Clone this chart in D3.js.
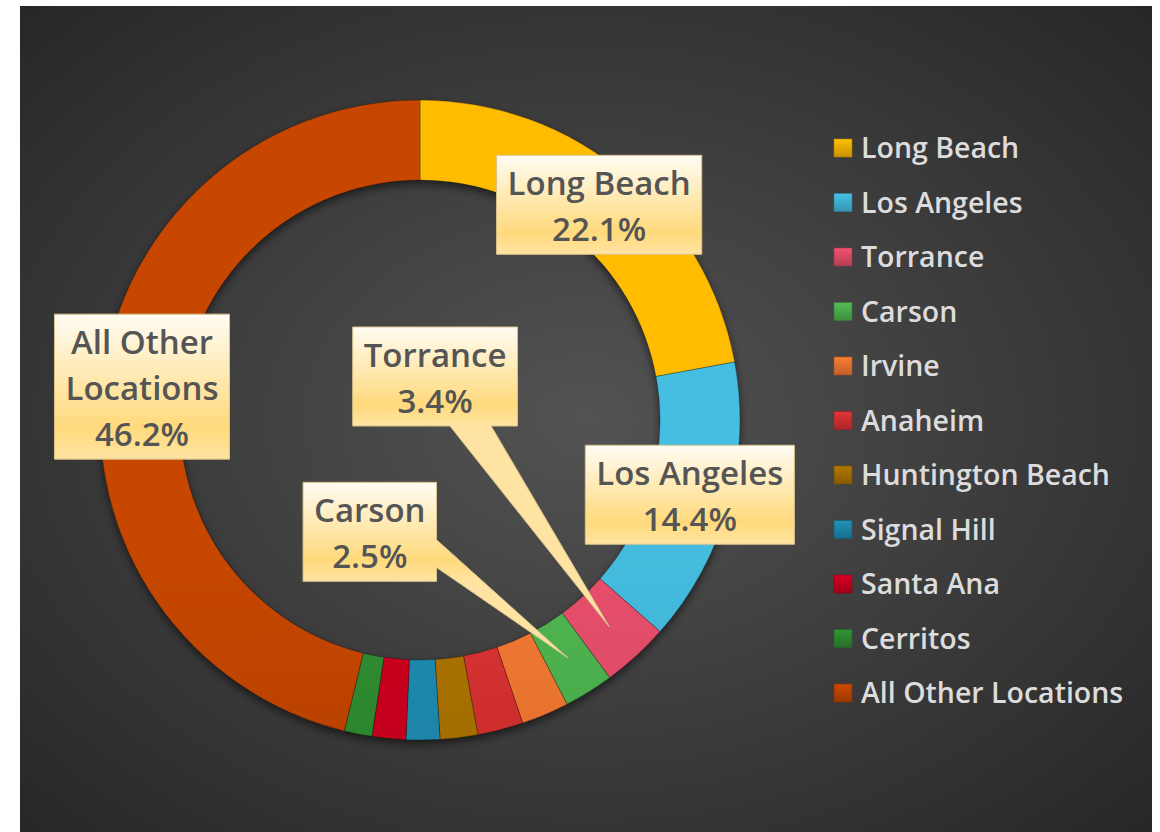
<!DOCTYPE html>
<html>
<head>
<meta charset="utf-8">
<script src="https://cdn.jsdelivr.net/npm/d3@7"></script>
<style>
  body { margin: 0; background: #fff; }
  svg { display: block; }
</style>
</head>
<body>
<div id="chart"></div>
<script>
// values (percent of total)
var cities = ['Long Beach', 'Los Angeles', 'Torrance', 'Carson', 'Irvine', 'Anaheim',
  'Huntington Beach', 'Signal Hill', 'Santa Ana', 'Cerritos', 'All Other Locations'];
var shares = [22.1, 14.4, 3.4, 2.5, 2.4, 2.3, 1.9, 1.7, 1.7, 1.4, 46.2];
var colors = ['#f7b400', '#42b6d8', '#e04d68', '#4db04e', '#ec7530', '#d33030',
  '#a87000', '#1e88ac', '#c8001e', '#2e8a30', '#c04400'];

// which slices get a data label, its lines, and where the box sits relative to the slice
var labelled = [
  { i: 0, lines: ['Long Beach'], dx: 0, dy: 0 },
  { i: 1, lines: ['Los Angeles'], dx: 0, dy: 0 },
  { i: 2, lines: ['Torrance'], dx: -174, dy: -250, side: 'bottom', p0: 0.59, p1: 0.84 },
  { i: 3, lines: ['Carson'], dx: -198, dy: -126, side: 'right', p0: 0.58, p1: 0.86 },
  { i: 10, lines: ['All Other', 'Locations'], dx: 0, dy: 0 }
];

var W = 1160, H = 832;
var cx = 420, cy = 420, rOuter = 320, rInner = 240;
var fmt = d3.format('.1f');

var svg = d3.select('#chart').append('svg')
  .attr('width', W)
  .attr('height', H);

var defs = svg.append('defs');

var bg = defs.append('radialGradient').attr('id', 'bg')
  .attr('cx', '0.5').attr('cy', '0.5').attr('r', '0.72');
bg.append('stop').attr('offset', '0').attr('stop-color', '#535353');
bg.append('stop').attr('offset', '1').attr('stop-color', '#262626');

var shadow = defs.append('filter').attr('id', 'shadow')
  .attr('x', '-20%').attr('y', '-20%').attr('width', '140%').attr('height', '140%');
shadow.append('feDropShadow').attr('dx', 0).attr('dy', 4)
  .attr('stdDeviation', 4).attr('flood-color', '#000').attr('flood-opacity', 0.55);

// top-lit shading for each slice colour
colors.forEach(function (c, k) {
  var g = defs.append('linearGradient').attr('id', 'slice' + k)
    .attr('gradientUnits', 'userSpaceOnUse')
    .attr('x1', 0).attr('x2', 0).attr('y1', cy - rOuter).attr('y2', cy + rOuter);
  g.append('stop').attr('offset', '0').attr('stop-color', d3.color(c).brighter(0.12));
  g.append('stop').attr('offset', '1').attr('stop-color', d3.color(c).darker(0.5));
  var s = defs.append('linearGradient').attr('id', 'key' + k)
    .attr('x1', 0).attr('x2', 0).attr('y1', 0).attr('y2', 1);
  s.append('stop').attr('offset', '0').attr('stop-color', d3.color(c).brighter(0.2));
  s.append('stop').attr('offset', '1').attr('stop-color', d3.color(c).darker(0.6));
});

svg.append('rect')
  .attr('x', 20).attr('y', 6)
  .attr('width', 1132).attr('height', H - 6)
  .attr('fill', 'url(#bg)');

var pie = d3.pie().sort(null).value(function (d) { return d; });
var arcs = pie(shares);
var arc = d3.arc().innerRadius(rInner).outerRadius(rOuter);

var ring = svg.append('g')
  .attr('transform', 'translate(' + cx + ',' + cy + ')');

ring.append('g')
  .attr('filter', 'url(#shadow)')
  .selectAll('path')
  .data(arcs)
  .enter()
  .append('path')
    .attr('d', arc)
    .attr('fill', function (d, k) { return 'url(#slice' + k + ')'; })
    .attr('stroke', 'rgba(0,0,0,0.35)')
    .attr('stroke-width', 0.8);

// data label callouts
var lineH = 46, padX = 11;
var labels = ring.append('g');

labelled.forEach(function (L, n) {
  var c = arc.centroid(arcs[L.i]);
  var lines = L.lines.concat([fmt(shares[L.i]) + '%']);
  var g = labels.append('g');

  var grad = defs.append('linearGradient').attr('id', 'box' + n)
    .attr('gradientUnits', 'userSpaceOnUse').attr('x1', 0).attr('x2', 0);
  grad.append('stop').attr('offset', '0').attr('stop-color', '#fffcf3');
  grad.append('stop').attr('offset', '0.78').attr('stop-color', '#ffda7c');
  grad.append('stop').attr('offset', '1').attr('stop-color', '#ffe3a2');

  var shape = g.append('path');
  var txt = g.append('text')
    .attr('text-anchor', 'middle')
    .attr('fill', '#555555')
    .style('font-family', '"Open Sans", sans-serif')
    .style('font-weight', 600)
    .style('font-size', '33px');
  lines.forEach(function (s) { txt.append('tspan').text(s); });

  var w = 0;
  txt.selectAll('tspan').each(function () { w = Math.max(w, this.getComputedTextLength()); });
  w += padX * 2;
  var h = lines.length * lineH + 7;
  var bx = c[0] + L.dx, by = c[1] + L.dy;
  var x0 = bx - w / 2, x1 = bx + w / 2, y0 = by - h / 2, y1 = by + h / 2;

  txt.selectAll('tspan')
    .attr('x', bx)
    .attr('y', function (s, k) { return y0 + 40 + k * lineH; });

  grad.attr('y1', y0).attr('y2', y1);

  var p;
  if (L.side === 'bottom') {
    var a = x0 + w * L.p0, b = x0 + w * L.p1;
    p = 'M' + x0 + ',' + y0 + 'H' + x1 + 'V' + y1 + 'H' + b +
      'L' + c[0] + ',' + c[1] + 'L' + a + ',' + y1 + 'H' + x0 + 'Z';
  } else if (L.side === 'right') {
    var ya = y0 + h * L.p0, yb = y0 + h * L.p1;
    p = 'M' + x0 + ',' + y0 + 'H' + x1 + 'V' + ya +
      'L' + c[0] + ',' + c[1] + 'L' + x1 + ',' + yb + 'V' + y1 + 'H' + x0 + 'Z';
  } else {
    p = 'M' + x0 + ',' + y0 + 'H' + x1 + 'V' + y1 + 'H' + x0 + 'Z';
  }
  shape.attr('d', p)
    .attr('fill', 'url(#box' + n + ')')
    .attr('stroke', '#d8c38c')
    .attr('stroke-width', 1);
});

// legend
var ly = d3.scalePoint().domain(cities).range([148, 693]);

var legend = svg.append('g').selectAll('g')
  .data(cities)
  .enter()
  .append('g')
  .attr('transform', function (d) { return 'translate(834,' + ly(d) + ')'; });

legend.append('rect')
  .attr('x', 0).attr('y', -9)
  .attr('width', 18).attr('height', 18)
  .attr('fill', function (d, k) { return 'url(#key' + k + ')'; })
  .attr('stroke', function (d, k) { return d3.color(colors[k]).darker(1); })
  .attr('stroke-width', 0.6);

legend.append('text')
  .attr('x', 27).attr('y', 10)
  .attr('fill', '#dcdcdc')
  .style('font-family', '"Open Sans", sans-serif')
  .style('font-weight', 600)
  .style('font-size', '28.5px')
  .text(function (d) { return d; });
</script>
</body>
</html>
